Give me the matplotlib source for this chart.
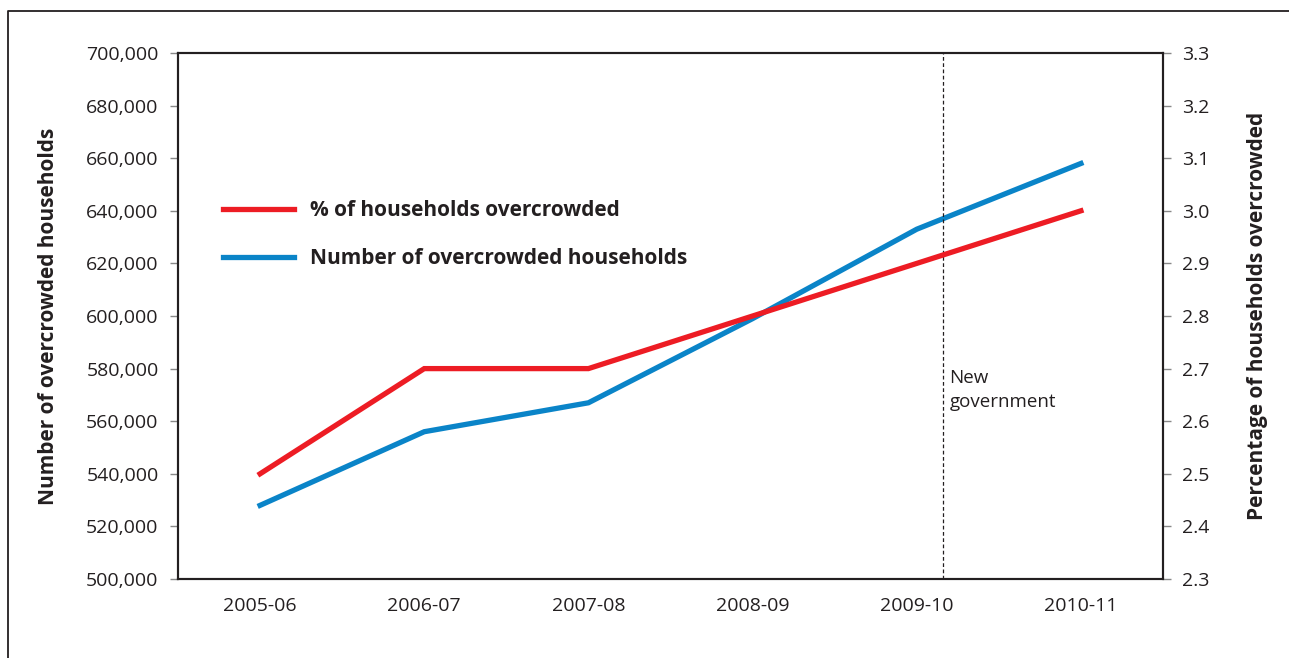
import matplotlib
matplotlib.use('Agg')
import matplotlib.pyplot as plt
from matplotlib.lines import Line2D
from matplotlib.ticker import FuncFormatter

plt.rcParams['font.family'] = ['Open Sans', 'DejaVu Sans']

years = ['2005-06', '2006-07', '2007-08', '2008-09', '2009-10', '2010-11']
overcrowded_pct = [2.5, 2.7, 2.7, 2.8, 2.9, 3.0]
overcrowded_num = [528000, 556000, 567000, 599000, 633000, 658000]
new_gov_x = 4.16

RED = '#ED1C24'
BLUE = '#0A84C8'

fig = plt.figure(figsize=(12.89, 6.58), dpi=100)
ax = fig.add_axes([178 / 1289, 1 - 579 / 658, (1163 - 178) / 1289, (579 - 53) / 658])
ax2 = ax.twinx()

x = range(len(years))
l_num, = ax.plot(x, overcrowded_num, color=BLUE, lw=3.8, solid_joinstyle='miter',
                 label='Number of overcrowded households')
l_pct, = ax2.plot(x, overcrowded_pct, color=RED, lw=3.8, solid_joinstyle='miter',
                  label='% of households overcrowded')

ax.set_xlim(-0.5, 5.5)
ax.set_ylim(500000, 700000)
ax.set_yticks(range(500000, 700001, 20000))
ax.yaxis.set_major_formatter(FuncFormatter(lambda v, p: f'{int(v):,}'))
ax2.set_ylim(2.3, 3.3)
ax2.set_yticks([2.3 + 0.1 * i for i in range(11)])
ax2.yaxis.set_major_formatter(FuncFormatter(lambda v, p: f'{v:.1f}'))

ax.set_xticks(list(x))
ax.set_xticklabels(years)

for a in (ax, ax2):
    for s in a.spines.values():
        s.set_linewidth(1.5)
        s.set_color('#231f20')
    a.tick_params(axis='y', length=6, width=1, color='#888888', labelsize=14,
                  labelcolor='#231f20', pad=8)
ax.tick_params(axis='x', length=0, labelsize=14, labelcolor='#231f20', pad=13)

ax.axvline(new_gov_x, color='#231f20', lw=0.9, ls=(0, (3, 2)))
ax.text(new_gov_x + 0.04, 580000, 'New\ngovernment', fontsize=13.5, color='#231f20',
        va='top', ha='left', linespacing=1.45)

ax.set_ylabel('Number of overcrowded households', fontsize=15, fontweight='bold',
              color='#231f20')
ax.yaxis.set_label_coords(-(178 - 59) / (1163 - 178), 0.5)
ax2.set_ylabel('Percentage of households overcrowded', fontsize=15, fontweight='bold',
               color='#231f20', rotation=90)
ax2.yaxis.set_label_coords(1 + (1247 - 1163) / (1163 - 178), 0.5)

leg = fig.legend(handles=[l_pct, l_num], loc='upper left', frameon=False,
                 bbox_to_anchor=(223 / 1289, 1 - 200 / 658), borderpad=0,
                 borderaxespad=0, handlelength=3.4, handletextpad=0.8,
                 labelspacing=1.3, prop={'size': 15, 'weight': 'bold'})
for t in leg.get_texts():
    t.set_color('#231f20')

# outer frame
fig.add_artist(Line2D([8 / 1289, 8 / 1289, 1.0], [0.0, 1 - 11 / 658, 1 - 11 / 658],
                      transform=fig.transFigure, color='#231f20', lw=1.3))

fig.savefig('out.png', dpi=100)
